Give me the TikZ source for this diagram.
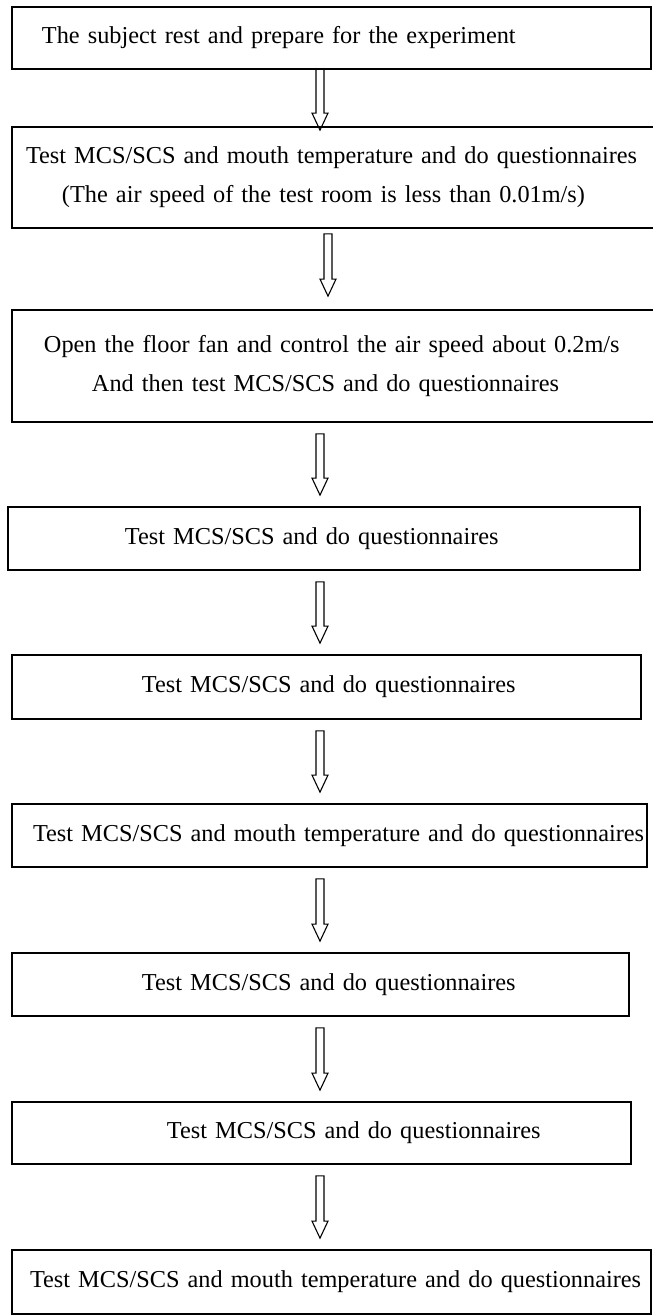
\documentclass[tikz,border=0pt]{standalone}
\usepackage{fontspec}
\setmainfont{Liberation Serif}
\usetikzlibrary{calc}

\begin{document}
\begin{tikzpicture}[
  x=1pt, y=-1pt,
  font=\fontsize{24.3}{39}\selectfont,
  stage/.style={rectangle, draw=black, line width=1.8pt, inner sep=0pt, align=left},
  hollow/.style 2 args={draw=black, line width=1.1pt, to path={
    let \p1=(\tikztostart), \p2=(\tikztotarget) in
    (\x1-4pt,\y1-#1) -- (\x1-4pt,\y2+#2+17pt) -- (\x1-8pt,\y2+#2+17pt) -- (\x1,\y2+#2)
    -- (\x1+8pt,\y2+#2+17pt) -- (\x1+4pt,\y2+#2+17pt) -- (\x1+4pt,\y1-#1) -- cycle}}
]
\useasboundingbox (0,0) rectangle (653,1315);

% boxes
\node[stage, text width=639pt, minimum height=62pt] (s1) at (331.5,38)
  {\hspace*{30pt}The subject rest and prepare for the experiment};
\node[stage, text width=643pt, minimum height=101pt] (s2) at (333.5,177.5)
  {\hspace*{14pt}Test MCS/SCS and mouth temperature and do questionnaires\\
   \hspace*{50pt}(The air speed of the test room is less than 0.01m/s)};
\node[stage, text width=643pt, minimum height=112pt] (s3) at (333.5,366)
  {\hspace*{32pt}Open the floor fan and control the air speed about 0.2m/s\\
   \hspace*{80pt}And then test MCS/SCS and do questionnaires};
\node[stage, text width=632pt, minimum height=63pt] (s4) at (324,538.5)
  {\hspace*{117pt}Test MCS/SCS and do questionnaires};
\node[stage, text width=629pt, minimum height=64pt] (s5) at (326.5,687)
  {\hspace*{130pt}Test MCS/SCS and do questionnaires};
\node[stage, text width=635pt, minimum height=63pt] (s6) at (329.5,835.5)
  {\hspace*{21pt}Test MCS/SCS and mouth temperature and do questionnaires};
\node[stage, text width=617pt, minimum height=63pt] (s7) at (320.5,984.5)
  {\hspace*{130pt}Test MCS/SCS and do questionnaires};
\node[stage, text width=619pt, minimum height=62pt] (s8) at (321.5,1133)
  {\hspace*{155pt}Test MCS/SCS and do questionnaires};
\node[stage, text width=639pt, minimum height=64pt] (s9) at (331.5,1282)
  {\hspace*{18pt}Test MCS/SCS and mouth temperature and do questionnaires};

% arrows
\coordinate (ax) at (320,0);
\coordinate (bx) at (328,0);
\draw[hollow={-1pt}{-4pt}] (s1.south -| ax) to (s2.north -| ax);
\draw[hollow={5pt}{13pt}] (s2.south -| bx) to (s3.north -| bx);
\foreach \a/\b in {s3/s4, s4/s5, s5/s6, s6/s7, s7/s8, s8/s9}
  \draw[hollow={11pt}{11pt}] (\a.south -| ax) to (\b.north -| ax);
\end{tikzpicture}
\end{document}
